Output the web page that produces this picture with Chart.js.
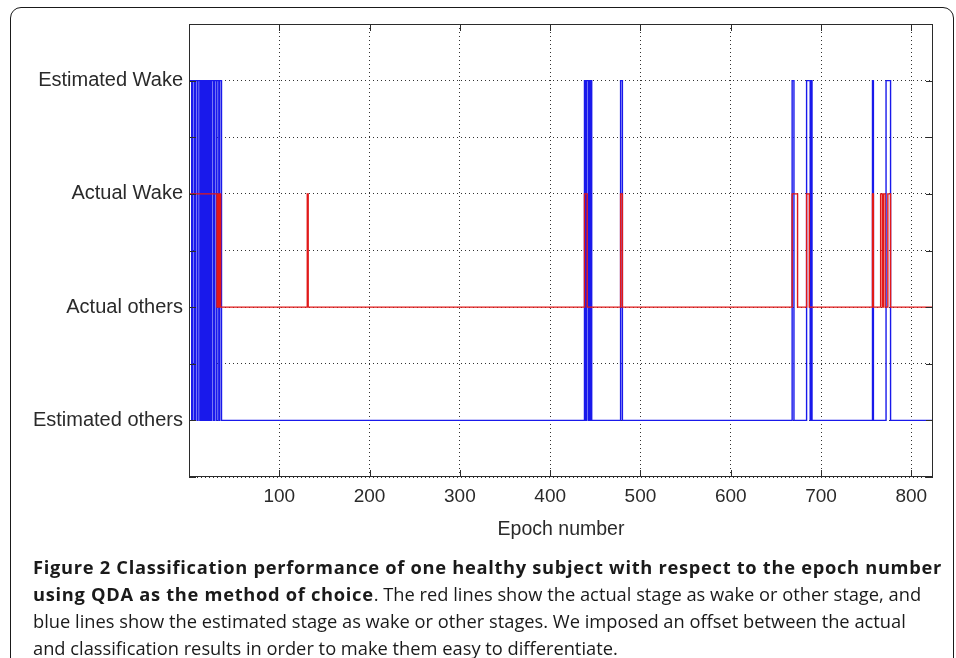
<!DOCTYPE html>
<html lang="en">
<head>
    <meta charset="UTF-8">
    <title>Classification performance - QDA</title>
    <script src="https://cdn.jsdelivr.net/npm/chart.js"></script>
    <style>
        body {
            margin: 0;
            background: #fff;
        }

        .frame {
            position: absolute;
            left: 10px;
            top: 7px;
            width: 942px;
            height: 720px;
            border: 1.5px solid #1a1a1a;
            border-radius: 11px;
        }

        .plot {
            position: absolute;
            left: 0;
            top: 0;
        }

        .caption {
            position: absolute;
            left: 33px;
            top: 553px;
            font-family: "Open Sans", sans-serif;
            font-size: 18.3px;
            line-height: 27px;
            color: #1a1a1a;
            white-space: nowrap;
        }

        .caption b {
            letter-spacing: 0.7px;
        }
    </style>
</head>
<body>
    <div class="frame"></div>
    <canvas id="stageChart" class="plot" width="956" height="560"></canvas>
    <div class="caption"><b>Figure 2 Classification performance of one healthy subject with respect to the epoch number<br>using QDA as the method of choice</b>. The red lines show the actual stage as wake or other stage, and<br>blue lines show the estimated stage as wake or other stages. We imposed an offset between the actual<br>and classification results in order to make them easy to differentiate.</div>

    <script>
        // y levels: 0 = estimated others, 1 = actual others, 2 = actual wake, 3 = estimated wake
        const stageLabels = ['Estimated others', 'Actual others', 'Actual Wake', 'Estimated Wake'];

        // actual stage (red): epoch where a stage starts, and the stage level
        const actualEpochs = [1, 31, 32, 33, 34, 35, 131, 132, 438, 441, 478, 480, 668, 674, 684, 687,
            757, 758, 766, 768, 769, 771, 774, 777, 824];
        const actualLevels = [2, 1, 2, 1, 2, 1, 2, 1, 2, 1, 2, 1, 2, 1, 2, 1,
            2, 1, 2, 1, 2, 1, 2, 1, 1];

        // estimated stage (blue)
        const estEpochs = [1, 3, 4, 6, 7, 9, 10, 12, 13, 14, 15, 16, 17, 18, 19, 20, 21, 22, 23, 24,
            25, 27, 28, 30, 31, 33, 34, 36,
            438, 439, 440, 442, 443, 444, 445, 446, 478, 480, 668, 670, 684, 688, 689, 690,
            757, 758, 772, 777, 824];
        const estLevels = [3, 0, 3, 0, 3, 0, 3, 0, 3, 0, 3, 0, 3, 0, 3, 0, 3, 0, 3, 0,
            3, 0, 3, 0, 3, 0, 3, 0,
            3, 0, 3, 0, 3, 0, 3, 0, 3, 0, 3, 0, 3, 0, 3, 0,
            3, 0, 3, 0, 0];

        const xMax = 824;
        const textColor = '#2a2a2a';
        const fontFamily = '"Liberation Sans", Arial, sans-serif';

        // matlab style box with inward tick marks
        const axesBox = {
            id: 'axesBox',
            afterDatasetsDraw(chart) {
                const { ctx, chartArea: a, scales: { x, y } } = chart;
                const len = 7;
                ctx.save();
                ctx.strokeStyle = '#2b2b2b';
                ctx.lineWidth = 1;
                ctx.strokeRect(a.left + 0.5, a.top + 0.5, a.width - 1, a.height - 1);
                ctx.beginPath();
                x.ticks.forEach(t => {
                    const px = Math.round(x.getPixelForValue(t.value)) + 0.5;
                    ctx.moveTo(px, a.bottom);
                    ctx.lineTo(px, a.bottom - len);
                    ctx.moveTo(px, a.top);
                    ctx.lineTo(px, a.top + len);
                });
                y.ticks.forEach(t => {
                    const py = Math.round(y.getPixelForValue(t.value)) + 0.5;
                    ctx.moveTo(a.left, py);
                    ctx.lineTo(a.left + len, py);
                    ctx.moveTo(a.right, py);
                    ctx.lineTo(a.right - len, py);
                });
                ctx.stroke();
                ctx.restore();
            }
        };

        const ctx = document.getElementById('stageChart').getContext('2d');
        const stageChart = new Chart(ctx, {
            type: 'line',
            data: {
                datasets: [{
                    label: 'Actual',
                    data: actualEpochs.map((e, i) => ({ x: e, y: actualLevels[i] })),
                    borderColor: 'rgb(225, 25, 25)',
                    borderWidth: 1.4,
                    stepped: 'before',
                    pointRadius: 0,
                    fill: false
                }, {
                    label: 'Estimated',
                    data: estEpochs.map((e, i) => ({ x: e, y: estLevels[i] })),
                    borderColor: 'rgb(25, 25, 235)',
                    borderWidth: 1.4,
                    stepped: 'before',
                    pointRadius: 0,
                    fill: false
                }]
            },
            options: {
                responsive: false,
                animation: false,
                layout: { padding: { top: 24, right: 23, left: 0, bottom: 0 } },
                plugins: {
                    legend: { display: false },
                    tooltip: { enabled: false }
                },
                scales: {
                    x: {
                        type: 'linear',
                        min: 0,
                        max: xMax,
                        afterFit(s) { s.height = 83; },
                        ticks: {
                            stepSize: 100,
                            includeBounds: false,
                            autoSkip: false,
                            maxRotation: 0,
                            padding: 8,
                            color: textColor,
                            font: { family: fontFamily, size: 19 },
                            callback: v => (v === 0 ? '' : v)
                        },
                        grid: { color: '#333', lineWidth: 1, drawTicks: false },
                        border: { display: false, dash: [1, 3] },
                        title: {
                            display: true,
                            text: 'Epoch number',
                            color: textColor,
                            font: { family: fontFamily, size: 19.5 },
                            padding: { top: 0, bottom: 19 }
                        }
                    },
                    y: {
                        min: -0.5,
                        max: 3.5,
                        afterFit(s) { s.width = 189; },
                        ticks: {
                            stepSize: 0.5,
                            autoSkip: false,
                            padding: 6,
                            color: textColor,
                            font: { family: fontFamily, size: 20 },
                            callback: v => (Number.isInteger(v) && v >= 0 && v <= 3 ? stageLabels[v] : '')
                        },
                        grid: { color: '#333', lineWidth: 1, drawTicks: false },
                        border: { display: false, dash: [1, 3] }
                    }
                }
            },
            plugins: [axesBox]
        });
    </script>
</body>
</html>
